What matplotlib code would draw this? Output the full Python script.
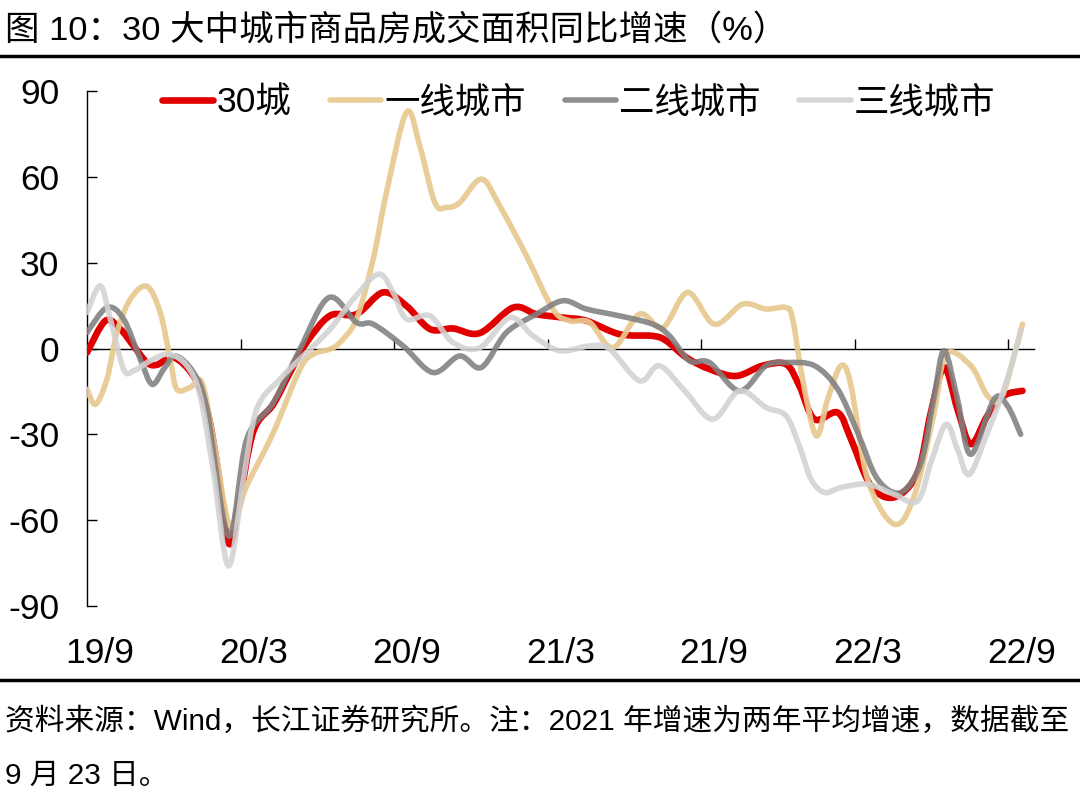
import numpy as np
import matplotlib
matplotlib.use("Agg")
import matplotlib.pyplot as plt
from matplotlib.path import Path
from matplotlib.patches import PathPatch
from matplotlib.lines import Line2D

plt.rcParams['font.family'] = ['Liberation Sans', 'Noto Sans CJK SC', 'DejaVu Sans']
plt.rcParams['axes.unicode_minus'] = False

# ---------------- data (x = months since 2019-09-01) ----------------
series_names = ['30城', '一线城市', '二线城市', '三线城市']
tick_labels = ['19/9', '20/3', '20/9', '21/3', '21/9', '22/3', '22/9']

x_30 = [0, 0.72, 1.3, 1.82, 2.34, 2.73, 3.38, 4.16, 4.68, 5.07, 5.53, 5.92, 6.5, 7.28,
        7.93, 8.58, 9.5, 10.53, 11.57, 12.48, 13.4, 14.3, 15.35, 16.65, 17.56, 18.6,
        19.51, 20.81, 22.1, 22.63, 23.41, 24.32, 25.36, 26.4, 27.31, 27.83, 28.42,
        29.33, 29.85, 30.63, 31.54, 32.45, 32.97, 33.49, 34.01, 34.53, 35.18, 35.83, 36.55]
y_30 = [-1.4, 9.7, 6.8, 0.9, -4.9, -5.7, -3.1, -9.6, -21, -40, -68, -55, -29, -19.5,
        -8.4, 2.1, 11.5, 12, 19.6, 14.9, 6.8, 7, 5.4, 14.3, 12, 10.8,
        9.7, 5, 4.4, 2.7, -3.1, -7.2, -9.6, -6, -5.5, -13, -24.7,
        -22.4, -31.7, -48, -52, -43.4, -22.4, -6.6, -21.2, -33.4, -23.5, -16.5, -14.8]

x_t1 = [0, 0.33, 0.78, 1.17, 1.69, 2.34, 2.86, 3.25, 3.51, 4.03, 4.49, 4.94, 5.59, 6.24,
        7.28, 8.32, 8.84, 9.5, 9.88, 10.53, 11.18, 11.7, 12.48, 13.0, 13.59, 14.04, 14.56,
        15.41, 16.12, 17.17, 18.2, 18.86, 19.64, 20.55, 21.59, 22.5, 23.47, 24.51, 25.62,
        26.53, 27.31, 27.57, 27.96, 28.49, 28.94, 29.46, 29.85, 30.5, 31.54, 32.32, 33.1,
        33.56, 34.53, 35.18, 35.7, 36.22, 36.55]
y_t1 = [-14.2, -19.5, -10.7, 5.6, 17.2, 21.7, 12.6, -3.7, -14.2, -13.6, -11.9, -31.7, -62, -48,
        -29.4, -7.2, -2, -0.2, 2.1, 10.3, 31.2, 54.5, 82.5, 70.9, 51, 49.3, 51,
        59.2, 49.9, 32.4, 13.8, 9.7, 9.1, 0.3, 12, 7.3, 19.6, 8.5, 15.5,
        13.8, 14.3, 10.3, -10.7, -30.5, -17.7, -6, -13, -45.7, -61.4, -51.5, -22.4,
        -2, -6, -16.5, -17.7, -2.6, 8.5]

x_t2 = [0, 0.78, 1.43, 2.08, 2.54, 3.0, 3.45, 4.16, 4.68, 5.53, 6.24, 7.28, 8.32, 9.45,
        10.53, 11.18, 12.35, 13.52, 14.56, 15.41, 16.39, 17.56, 18.6, 19.51, 20.81, 22.1,
        22.76, 23.54, 24.32, 25.49, 26.53, 27.31, 28.42, 29.33, 30.11, 30.89, 31.8, 32.58,
        33.1, 33.49, 34.01, 34.53, 35.44, 35.96, 36.48]
y_t2 = [5.6, 14.3, 10.3, -3.7, -12.5, -7.2, -2.6, -8.4, -21, -65.5, -31.7, -18.9, -0.2, 17.8,
        9.1, 8.5, 0.9, -8.4, -2.6, -6.6, 5.6, 12, 16.7, 13.8, 11.4, 8.5,
        4.4, -4.3, -4.9, -14.8, -6, -4.9, -6, -14.2, -29.4, -45.7, -50.3, -39.9,
        -16.5, -0.8, -17.7, -37, -17.7, -20, -30]

x_t3 = [0, 0.52, 0.91, 1.43, 1.82, 2.47, 3.19, 3.9, 4.42, 4.94, 5.53, 6.11, 6.63, 7.54,
        8.32, 9.5, 10.4, 11.38, 11.96, 12.48, 13.4, 14.3, 15.35, 16.52, 17.43, 18.47,
        19.64, 20.42, 21.59, 22.37, 23.41, 24.45, 25.49, 26.53, 27.31, 27.83, 28.29,
        28.81, 29.46, 30.5, 31.54, 32.45, 32.97, 33.56, 34.01, 34.47, 35.18, 35.96, 36.48]
y_t3 = [12.6, 21.9, 10.3, -7.2, -7.8, -4.3, -2, -6, -16.5, -43, -76, -45.7, -21.2, -10.7,
        -3.7, 6.8, 17.2, 26, 19.6, 10.3, 11.4, 2.1, 0.3, 10.8, 4.4, -0.8,
        0.9, -0.2, -11.3, -6, -15.4, -24.7, -14.8, -20.6, -23.5, -34, -45.7,
        -50.3, -48.6, -47.4, -51, -53.3, -39.9, -26.5, -35.2, -44, -29.4, -10.7, 6.2]

colors = ['#E00000', '#E8C98F', '#808080', '#D2D2D2']
widths = [4.8, 4.0, 4.0, 4.0]
alphas = [1.0, 0.92, 0.88, 0.88]


def smooth_path(xs, ys):
    pts = np.column_stack([xs, ys]).astype(float)
    n = len(pts)
    verts = [pts[0]]
    codes = [Path.MOVETO]
    for i in range(n - 1):
        p0 = pts[i - 1] if i > 0 else pts[i]
        p1 = pts[i]
        p2 = pts[i + 1]
        p3 = pts[i + 2] if i + 2 < n else pts[i + 1]
        c1 = p1 + (p2 - p0) / 6.0
        c2 = p2 - (p3 - p1) / 6.0
        verts += [c1, c2, p2]
        codes += [Path.CURVE4] * 3
    return Path(verts, codes)


fig = plt.figure(figsize=(10.8, 8.11), dpi=100)
ax = fig.add_axes([87 / 1080, 1 - 606 / 811, (1034 - 87) / 1080, (606 - 91) / 811])
ax.set_xlim(0, 37)
ax.set_ylim(-90, 90)

for xs, ys, c, w, a, z in zip([x_30, x_t1, x_t2, x_t3], [y_30, y_t1, y_t2, y_t3],
                              colors, widths, alphas, [3, 4, 5, 6]):
    patch = PathPatch(smooth_path(xs, ys), facecolor='none', edgecolor=c, lw=w,
                      alpha=a, capstyle='round', joinstyle='round', zorder=z)
    ax.add_patch(patch)

# axes styling
for s in ['top', 'right']:
    ax.spines[s].set_visible(False)
ax.spines['left'].set_color('black')
ax.spines['left'].set_linewidth(1.0)
ax.spines['bottom'].set_position(('data', 0))
ax.spines['bottom'].set_color('black')
ax.spines['bottom'].set_linewidth(1.0)
ax.spines['bottom'].set_zorder(1)

ax.set_yticks(np.arange(-90, 91, 30))
ax.tick_params(axis='y', direction='in', length=7.5, width=1, pad=20, labelsize=25.5,
               colors='black')
ax.set_xticks(np.arange(6, 37, 6))
ax.tick_params(axis='x', direction='in', length=7.5, width=1, labelbottom=False)

sec = ax.secondary_xaxis('bottom')
sec.set_xticks(np.arange(0, 37, 6) + 0.5, tick_labels)
sec.tick_params(axis='x', length=0, pad=22, labelsize=25.5)
sec.spines['bottom'].set_visible(False)

# legend
handles = [Line2D([], [], color=c, lw=w, alpha=a, solid_capstyle='round')
           for c, w, a in zip(colors, widths, alphas)]
fig.legend(handles, series_names, loc='center left',
           bbox_to_anchor=(162 / 1080, 1 - 103 / 811), ncol=4, frameon=False,
           fontsize=25.5, handlelength=1.45, handletextpad=0.1, columnspacing=1.08,
           borderpad=0, borderaxespad=0)

# title, rules, notes
fig.text(5 / 1080, 1 - 30 / 811, '图 10：30 大中城市商品房成交面积同比增速（%）',
         fontsize=24.8, va='center', ha='left')
fig.add_artist(Line2D([0, 1], [1 - 56 / 811] * 2, transform=fig.transFigure,
                      color='black', lw=2.5))
fig.add_artist(Line2D([0, 1], [1 - 680 / 811] * 2, transform=fig.transFigure,
                      color='black', lw=2.5))
fig.text(5 / 1080, 1 - 722 / 811,
         '资料来源：Wind，长江证券研究所。注：2021 年增速为两年平均增速，数据截至',
         fontsize=21.4, va='center', ha='left')
fig.text(5 / 1080, 1 - 776 / 811, '9 月 23 日。', fontsize=21.4, va='center', ha='left')

fig.savefig('out.png', dpi=100)
